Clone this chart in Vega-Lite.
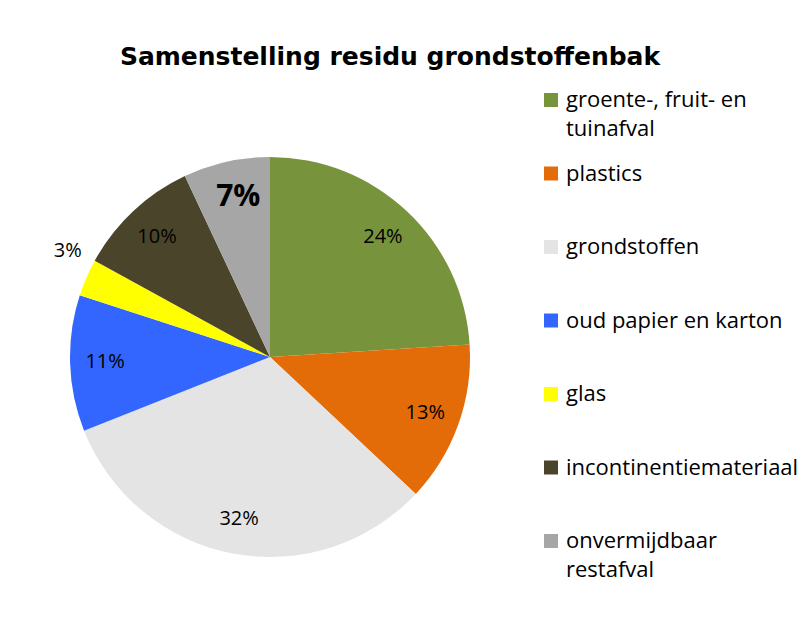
{
  "$schema": "https://vega.github.io/schema/vega-lite/v6.json",
  "autosize": {"type": "none"},
  "width": 420,
  "height": 420,
  "padding": {"left": 60, "top": 147, "right": 328, "bottom": 70},
  "background": "white",
  "title": {
    "text": "Samenstelling residu grondstoffenbak",
    "font": "DejaVu Sans",
    "fontSize": 25,
    "fontWeight": "bold",
    "color": "black",
    "anchor": "middle",
    "dx": 120,
    "offset": 19
  },
  "config": {
    "view": {"stroke": null},
    "style": {"guide-label": {"lineHeight": 29}}
  },
  "data": {
    "values": [
      {"cat": "groente-, fruit- en tuinafval", "pct": 0.24, "order": 1},
      {"cat": "plastics", "pct": 0.13, "order": 2},
      {"cat": "grondstoffen", "pct": 0.32, "order": 3},
      {"cat": "oud papier en karton", "pct": 0.11, "order": 4},
      {"cat": "glas", "pct": 0.03, "order": 5},
      {"cat": "incontinentiemateriaal", "pct": 0.10, "order": 6},
      {"cat": "onvermijdbaar restafval", "pct": 0.07, "order": 7}
    ]
  },
  "encoding": {
    "theta": {"field": "pct", "type": "quantitative", "stack": true},
    "order": {"field": "order", "type": "quantitative"}
  },
  "layer": [
    {
      "mark": {"type": "arc", "outerRadius": 200, "strokeWidth": 0},
      "encoding": {
        "color": {
          "field": "cat",
          "type": "nominal",
          "scale": {
            "domain": ["groente-, fruit- en tuinafval", "plastics", "grondstoffen", "oud papier en karton", "glas", "incontinentiemateriaal", "onvermijdbaar restafval"],
            "range": ["#77933C", "#E36C09", "#E4E4E4", "#3366FF", "#FFFF00", "#4A452A", "#A6A6A6"]
          },
          "legend": {
            "title": null,
            "orient": "none",
            "legendX": 480,
            "legendY": -58,
            "gridAlign": "all",
            "symbolType": "square",
            "symbolSize": 196,
            "symbolStrokeWidth": 0,
            "labelFont": "Open Sans",
            "labelFontSize": 22,
            "labelColor": "black",
            "labelOffset": 4,
            "labelLimit": 400,
            "rowPadding": 22.5,
            "labelExpr": "datum.label == 'groente-, fruit- en tuinafval' ? ['groente-, fruit- en', 'tuinafval'] : datum.label == 'onvermijdbaar restafval' ? ['onvermijdbaar', 'restafval'] : datum.label"
          }
        }
      }
    },
    {
      "mark": {"type": "text", "radius": 165, "font": "Open Sans", "fontSize": 20, "color": "black"},
      "encoding": {
        "text": {"field": "pct", "type": "quantitative", "format": ".0%"},
        "opacity": {"condition": {"test": "datum.cat === 'glas' || datum.cat === 'onvermijdbaar restafval'", "value": 0}, "value": 1}
      }
    },
    {
      "mark": {"type": "text", "radius": 229, "dx": 8, "dy": -15, "font": "Open Sans", "fontSize": 20, "color": "black"},
      "encoding": {
        "text": {"field": "pct", "type": "quantitative", "format": ".0%"},
        "opacity": {"condition": {"test": "datum.cat === 'glas'", "value": 1}, "value": 0}
      }
    },
    {
      "mark": {"type": "text", "radius": 164, "dx": 4, "font": "Open Sans", "fontSize": 30, "fontWeight": "bold", "color": "black"},
      "encoding": {
        "text": {"field": "pct", "type": "quantitative", "format": ".0%"},
        "opacity": {"condition": {"test": "datum.cat === 'onvermijdbaar restafval'", "value": 1}, "value": 0}
      }
    }
  ]
}
